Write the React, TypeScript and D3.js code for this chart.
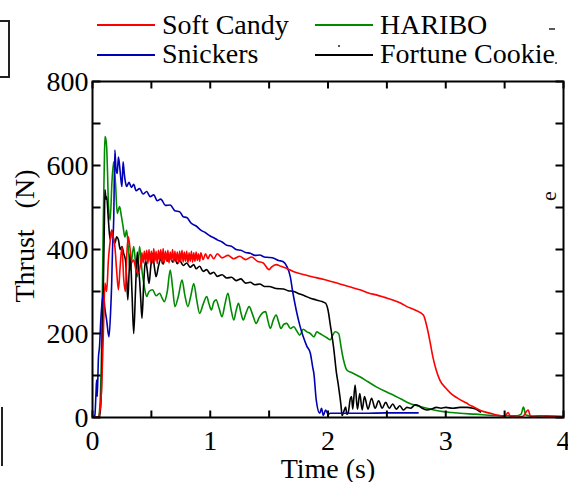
import React from "react";
import * as d3 from "d3";

const softCandy: [number, number][] = [
  [0,0],[0.05,2],[0.065,20],[0.078,73],[0.092,200],[0.106,320],[0.12,300],[0.135,375],[0.15,420],[0.163,446],[0.175,430],[0.19,407],[0.205,350],[0.22,304],[0.235,360],[0.25,407],[0.265,330],[0.28,300],[0.29,380],[0.304,430],[0.32,400],[0.335,370],[0.35,375],[0.37,350],[0.39,343],[0.41,370],[0.42,392],[0.43,368],[0.44,396],[0.45,372],[0.46,398],[0.47,366],[0.48,400],[0.49,370],[0.5,396],[0.51,368],[0.52,402],[0.53,372],[0.54,396],[0.55,366],[0.56,398],[0.57,374],[0.58,400],[0.59,368],[0.6,402],[0.61,370],[0.62,396],[0.63,372],[0.64,398],[0.65,368],[0.66,394],[0.67,374],[0.68,400],[0.69,370],[0.7,396],[0.71,372],[0.72,394],[0.73,368],[0.74,396],[0.75,372],[0.76,398],[0.77,370],[0.78,394],[0.79,372],[0.8,396],[0.81,368],[0.82,392],[0.83,372],[0.84,396],[0.85,370],[0.86,392],[0.87,372],[0.88,394],[0.89,374],[0.9,390],[0.91,372],[0.92,392],[0.94,376],[0.96,390],[0.98,378],[1.0,388],[1.03,378],[1.06,390],[1.1,380],[1.15,386],[1.2,378],[1.25,384],[1.3,376],[1.35,382],[1.4,372],[1.45,368],[1.5,352],[1.52,358],[1.56,364],[1.6,360],[1.65,355],[1.71,347],[1.8,340],[1.9,333],[1.99,327],[2.1,318],[2.2,310],[2.27,304],[2.35,296],[2.41,292],[2.48,286],[2.55,280],[2.62,272],[2.67,264],[2.74,256],[2.81,244],[2.84,216],[2.87,175],[2.89,145],[2.92,112],[2.95,89],[3.0,70],[3.04,58],[3.1,46],[3.15,38],[3.18,34],[3.2,30],[3.23,26],[3.3,16],[3.38,10],[3.45,5],[3.5,3],[3.53,12],[3.55,2],[3.6,4],[3.65,2],[3.7,18],[3.72,3],[3.8,4],[3.9,2],[4.0,2]
];

const snickers: [number, number][] = [
  [0,0],[0.02,5],[0.03,60],[0.035,89],[0.04,50],[0.05,140],[0.06,170],[0.07,230],[0.08,270],[0.092,296],[0.105,260],[0.12,232],[0.14,192],[0.155,260],[0.163,320],[0.17,400],[0.18,470],[0.19,637],[0.2,590],[0.21,581],[0.22,620],[0.23,600],[0.24,570],[0.25,550],[0.26,609],[0.27,580],[0.28,560],[0.29,550],[0.31,560],[0.33,548],[0.35,555],[0.37,540],[0.4,545],[0.43,532],[0.46,538],[0.49,526],[0.52,530],[0.55,516],[0.58,520],[0.62,505],[0.66,506],[0.7,492],[0.74,490],[0.77,478],[0.8,476],[0.84,462],[0.88,456],[0.92,446],[0.96,440],[1.0,432],[1.03,428],[1.06,423],[1.1,418],[1.14,410],[1.18,408],[1.22,400],[1.26,398],[1.3,393],[1.34,391],[1.38,386],[1.42,387],[1.46,382],[1.5,381],[1.54,379],[1.58,374],[1.62,371],[1.65,360],[1.68,335],[1.7,300],[1.73,256],[1.76,220],[1.79,192],[1.82,170],[1.85,153],[1.87,120],[1.88,105],[1.9,42],[1.93,10],[1.945,22],[1.96,5],[1.98,18],[2.0,8],[2.02,10],[2.1,10],[2.3,10],[2.5,11],[2.77,11]
];

const haribo: [number, number][] = [
  [0,0],[0.05,2],[0.065,40],[0.078,180],[0.092,470],[0.1,600],[0.106,669],[0.115,660],[0.12,645],[0.128,580],[0.135,510],[0.15,470],[0.165,560],[0.18,609],[0.195,560],[0.21,486],[0.23,502],[0.245,480],[0.26,454],[0.275,430],[0.29,446],[0.305,400],[0.32,351],[0.335,380],[0.35,407],[0.365,370],[0.38,335],[0.39,370],[0.4,407],[0.42,350],[0.44,311],[0.46,288],[0.48,300],[0.51,304],[0.54,290],[0.57,296],[0.59,285],[0.61,276],[0.635,300],[0.66,351],[0.68,310],[0.7,264],[0.73,290],[0.76,327],[0.785,290],[0.81,264],[0.835,290],[0.86,319],[0.885,280],[0.91,248],[0.94,270],[0.97,288],[0.99,270],[1.01,256],[1.03,275],[1.05,280],[1.075,260],[1.1,240],[1.125,270],[1.15,296],[1.175,260],[1.2,232],[1.22,255],[1.24,272],[1.26,250],[1.28,232],[1.305,250],[1.33,264],[1.36,245],[1.39,224],[1.415,238],[1.44,248],[1.47,252],[1.49,230],[1.51,212],[1.535,232],[1.56,244],[1.58,228],[1.6,212],[1.625,222],[1.65,224],[1.68,212],[1.71,216],[1.735,206],[1.76,196],[1.79,210],[1.82,204],[1.85,200],[1.88,192],[1.905,204],[1.93,200],[1.96,195],[1.99,190],[2.02,185],[2.04,196],[2.06,204],[2.09,200],[2.11,170],[2.12,153],[2.14,128],[2.16,113],[2.2,107],[2.27,97],[2.34,85],[2.41,73],[2.48,63],[2.55,54],[2.62,44],[2.69,34],[2.76,28],[2.84,22],[2.9,18],[2.98,14],[3.05,12],[3.12,10],[3.25,8],[3.4,5],[3.5,4],[3.6,4],[3.64,8],[3.66,25],[3.68,6],[3.75,3],[3.85,4],[4.0,2]
];

const fortuneCookie: [number, number][] = [
  [0,0],[0.06,2],[0.075,60],[0.085,200],[0.092,311],[0.1,450],[0.106,542],[0.115,520],[0.12,526],[0.135,470],[0.15,423],[0.163,446],[0.175,430],[0.19,415],[0.205,430],[0.22,423],[0.235,400],[0.25,407],[0.265,390],[0.28,375],[0.29,330],[0.3,280],[0.31,340],[0.32,391],[0.335,300],[0.35,200],[0.365,300],[0.38,394],[0.39,360],[0.4,327],[0.41,280],[0.42,236],[0.435,320],[0.45,375],[0.465,350],[0.48,319],[0.495,360],[0.51,391],[0.525,360],[0.54,335],[0.56,360],[0.58,378],[0.6,365],[0.62,384],[0.64,372],[0.66,383],[0.68,370],[0.7,378],[0.72,366],[0.74,374],[0.77,362],[0.8,368],[0.83,358],[0.86,364],[0.88,354],[0.91,360],[0.94,348],[0.97,352],[1.0,342],[1.03,346],[1.06,336],[1.1,340],[1.14,332],[1.18,334],[1.22,326],[1.26,330],[1.3,320],[1.34,322],[1.38,316],[1.42,318],[1.46,312],[1.5,312],[1.56,307],[1.62,306],[1.66,302],[1.71,300],[1.76,294],[1.8,290],[1.85,284],[1.9,280],[1.95,276],[1.98,272],[2.0,256],[2.02,220],[2.05,161],[2.07,110],[2.09,73],[2.11,30],[2.12,5],[2.135,15],[2.15,25],[2.16,8],[2.17,10],[2.19,45],[2.2,50],[2.21,20],[2.23,77],[2.25,20],[2.27,57],[2.29,18],[2.31,50],[2.34,20],[2.37,46],[2.4,22],[2.43,40],[2.46,22],[2.49,36],[2.52,22],[2.55,32],[2.58,20],[2.61,28],[2.64,18],[2.67,24],[2.7,22],[2.74,30],[2.77,28],[2.8,22],[2.84,18],[2.88,20],[2.92,24],[2.96,22],[3.0,24],[3.06,22],[3.12,24],[3.18,24],[3.23,22],[3.27,18],[3.3,12]
];

const seriesNames = ["Soft Candy", "Snickers", "HARIBO", "Fortune Cookie"];
const seriesColors = ["#ff0000", "#0000b4", "#008a00", "#000000"];
const seriesData = [softCandy, snickers, haribo, fortuneCookie];
const xTickLabels = [0, 1, 2, 3, 4];
const yTickLabels = [0, 200, 400, 600, 800];
const xMinorTicks = [0, 0.5, 1, 1.5, 2, 2.5, 3, 3.5, 4];
const yMinorTicks = [0, 100, 200, 300, 400, 500, 600, 700, 800];

const W = 568, H = 482;
const FONT = "'Liberation Serif', 'Times New Roman', serif";

export default function App() {
  const x = d3.scaleLinear().domain([0, 4]).range([92.5, 563.5]);
  const y = d3.scaleLinear().domain([0, 800]).range([417.5, 81.5]);
  const line = d3.line<[number, number]>().x(d => x(d[0])).y(d => y(d[1])).curve(d3.curveMonotoneX);
  const [x0, x1] = x.range();
  const [y0, y1] = y.range();
  const fs = 28;
  const legendPos = [
    { lx: 97, ly: 25, tx: 162, ty: 34 },
    { lx: 97, ly: 55, tx: 162, ty: 63 },
    { lx: 315, ly: 25, tx: 380, ty: 34 },
    { lx: 315, ly: 55, tx: 380, ty: 63 },
  ];
  return (
    <svg width={W} height={H} style={{ position: "absolute", left: 0, top: 0, background: "#fff" }} fontFamily={FONT}>
      <defs>
        <clipPath id="plotClip">
          <rect x={x0} y={y1} width={x1 - x0} height={y0 - y1} />
        </clipPath>
      </defs>
      {/* cropped artifacts from neighbouring panels */}
      <rect x={-10} y={21} width={19} height={56} fill="none" stroke="#222" strokeWidth={2} />
      <line x1={2} x2={2} y1={407} y2={466} stroke="#222" strokeWidth={2} />
      <line x1={549} x2={555} y1={29} y2={29} stroke="#222" strokeWidth={1.5} />
      <circle cx={556} cy={63} r={1} fill="#222" />
      <circle cx={339} cy={46} r={1} fill="#222" />
      <text x={556} y={196} fontSize={22} transform="rotate(-90 556 196)" textAnchor="middle" fill="#111">e</text>
      {/* data */}
      <g clipPath="url(#plotClip)" fill="none">
        {[2, 3, 1, 0].map(i => (
          <path key={i} d={line(seriesData[i]) || ""} stroke={seriesColors[i]} strokeWidth={1.6} strokeLinejoin="round" />
        ))}
      </g>
      {/* axes frame */}
      <rect x={x0} y={y1} width={x1 - x0} height={y0 - y1} fill="none" stroke="#000" strokeWidth={2} />
      {xMinorTicks.map(t => (
        <g key={"xt" + t}>
          <line x1={x(t)} x2={x(t)} y1={y0} y2={y0 - 7} stroke="#000" strokeWidth={2} />
          <line x1={x(t)} x2={x(t)} y1={y1} y2={y1 + 7} stroke="#000" strokeWidth={2} />
        </g>
      ))}
      {yMinorTicks.map(v => (
        <g key={"yt" + v}>
          <line x1={x0} x2={x0 + 8} y1={y(v)} y2={y(v)} stroke="#000" strokeWidth={2} />
          <line x1={x1} x2={x1 - 8} y1={y(v)} y2={y(v)} stroke="#000" strokeWidth={2} />
        </g>
      ))}
      {xTickLabels.map(t => (
        <text key={"xl" + t} x={x(t)} y={450} fontSize={fs} textAnchor="middle">{t}</text>
      ))}
      {yTickLabels.map(v => (
        <text key={"yl" + v} x={x0 - 4} y={y(v) + 9} fontSize={fs} textAnchor="end">{v}</text>
      ))}
      <text x={328} y={478} fontSize={fs} textAnchor="middle">Time (s)</text>
      <text transform="translate(34 236) rotate(-90)" fontSize={fs} textAnchor="middle" style={{ whiteSpace: "pre" }}>{"Thrust   (N)"}</text>
      {/* legend */}
      {seriesNames.map((name, i) => (
        <g key={name}>
          <line x1={legendPos[i].lx} x2={legendPos[i].lx + 58} y1={legendPos[i].ly} y2={legendPos[i].ly} stroke={seriesColors[i]} strokeWidth={2} />
          <text x={legendPos[i].tx} y={legendPos[i].ty} fontSize={fs}>{name}</text>
        </g>
      ))}
    </svg>
  );
}
